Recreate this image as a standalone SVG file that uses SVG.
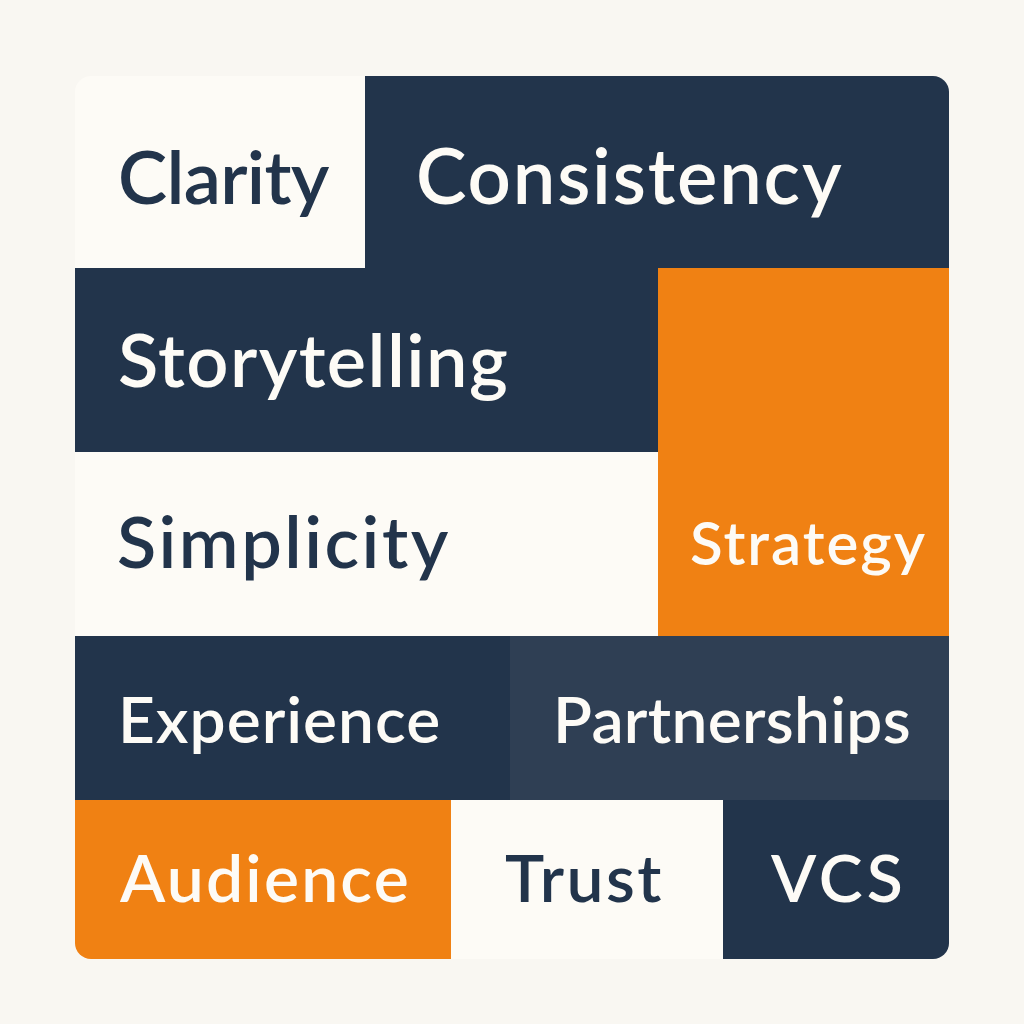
<svg xmlns="http://www.w3.org/2000/svg" width="1024" height="1024" viewBox="0 0 1024 1024">
<style>
.t{font-family:Lato,"Noto Sans",sans-serif;font-weight:600}
.n{fill:#22344b}.o{fill:#f08113}.w{fill:#fdfbf6}.s{fill:#2f3f54}
.tl{fill:#fdfbf6}.td{fill:#22344b}
</style>
<defs><clipPath id="c"><rect x="75" y="76" width="874" height="883" rx="16"/></clipPath></defs>
<rect width="1024" height="1024" fill="#f9f7f2"/>
<g clip-path="url(#c)">
<g id="clarity"><rect class="w" x="75" y="76" width="290" height="192"/><text class="t td" x="118" y="204" font-size="74" letter-spacing="-0.7">Clarity</text></g>
<g id="consistency"><rect class="n" x="365" y="76" width="584" height="192"/><text class="t tl" x="416" y="204" font-size="76" letter-spacing="1.8">Consistency</text></g>
<g id="storytelling"><rect class="n" x="75" y="268" width="584" height="184"/><text class="t tl" x="118" y="387" font-size="74" letter-spacing="1.4">Storytelling</text></g>
<g id="strategy"><rect class="o" x="658" y="268" width="291" height="368"/><text class="t tl" x="690" y="565" font-size="60" letter-spacing="2">Strategy</text></g>
<g id="simplicity"><rect class="w" x="75" y="452" width="583" height="184"/><text class="t td" x="117" y="568" font-size="72" letter-spacing="2.5">Simplicity</text></g>
<g id="experience"><rect class="n" x="75" y="636" width="435" height="164"/><text class="t tl" x="118" y="743" font-size="64" letter-spacing="1">Experience</text></g>
<g id="partnerships"><rect class="s" x="510" y="636" width="439" height="164"/><text class="t tl" x="553" y="743" font-size="64" letter-spacing="0.3">Partnerships</text></g>
<g id="audience"><rect class="o" x="75" y="800" width="376" height="159"/><text class="t tl" x="120" y="902" font-size="66" letter-spacing="2.2">Audience</text></g>
<g id="trust"><rect class="w" x="451" y="800" width="272" height="159"/><text class="t td" x="505" y="902" font-size="66" letter-spacing="2.4">Trust</text></g>
<g id="vcs"><rect class="n" x="723" y="800" width="226" height="159"/><text class="t tl" x="771" y="902" font-size="66" letter-spacing="4">VCS</text></g>
</g>
<g id="connectors"/>
</svg>
